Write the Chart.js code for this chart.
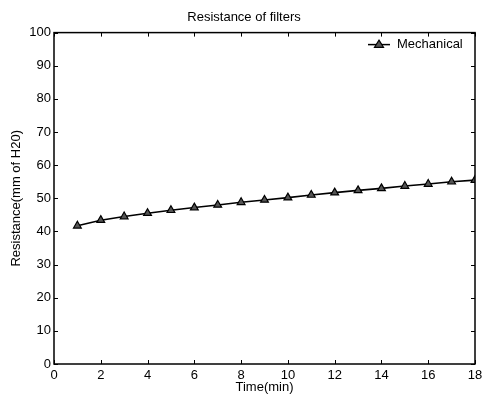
<!DOCTYPE html>
<html><head><meta charset="utf-8">
<script src="https://cdn.jsdelivr.net/npm/chart.js@4/dist/chart.umd.min.js"></script>
<style>html,body{margin:0;padding:0;background:#fff}#wrap{width:484px;height:396px}</style>
</head><body><div id="wrap"><canvas id="c" width="484" height="396"></canvas></div>
<script>
const timeMin = [1,2,3,4,5,6,7,8,9,10,11,12,13,14,15,16,17,18];
const mechanical = [41.7,43.4,44.5,45.5,46.4,47.2,48.0,48.8,49.5,50.2,51.0,51.7,52.4,53.0,53.7,54.3,55.0,55.5];
const xTicks = [0,2,4,6,8,10,12,14,16,18];
const yTicks = [0,10,20,30,40,50,60,70,80,90,100];
const FONT = 'Liberation Sans, Arial, Helvetica, sans-serif';

const boxPlugin = {
  id: 'box',
  afterDatasetsDraw(chart) {
    const {ctx, chartArea: a, scales} = chart;
    ctx.save();
    ctx.strokeStyle = '#000';
    ctx.lineWidth = 1;
    ctx.beginPath();
    xTicks.forEach(v => {
      const x = Math.round(scales.x.getPixelForValue(v)) + 0.5;
      ctx.moveTo(x, a.bottom); ctx.lineTo(x, a.bottom - 4);
      ctx.moveTo(x, a.top); ctx.lineTo(x, a.top + 4);
    });
    yTicks.forEach(v => {
      const y = Math.round(scales.y.getPixelForValue(v)) + 0.5;
      ctx.moveTo(a.left, y); ctx.lineTo(a.left + 4, y);
      ctx.moveTo(a.right, y); ctx.lineTo(a.right - 4, y);
    });
    ctx.stroke();
    ctx.lineWidth = 1.5;
    ctx.strokeRect(a.left, a.top, a.right - a.left, a.bottom - a.top);
    // legend
    const ly = a.top + 12;
    const lx = a.right - 107;
    ctx.lineWidth = 1.5;
    ctx.beginPath(); ctx.moveTo(lx, ly); ctx.lineTo(lx + 22, ly); ctx.stroke();
    ctx.beginPath();
    const cx = lx + 11, r = 4.5;
    ctx.moveTo(cx, ly - r); ctx.lineTo(cx + r, ly + r * 0.6); ctx.lineTo(cx - r, ly + r * 0.6); ctx.closePath();
    ctx.fillStyle = '#555'; ctx.fill(); ctx.lineWidth = 1.2; ctx.stroke();
    ctx.fillStyle = '#000';
    ctx.font = '13px ' + FONT;
    ctx.textBaseline = 'middle';
    ctx.textAlign = 'left';
    ctx.fillText(chart.data.datasets[0].label, lx + 29, ly);
    ctx.restore();
  }
};

new Chart(document.getElementById('c'), {
  type: 'line',
  data: {
    labels: timeMin,
    datasets: [{
      label: 'Mechanical',
      data: timeMin.map((t, i) => ({x: t, y: mechanical[i]})),
      borderColor: '#000',
      borderWidth: 1.6,
      pointStyle: 'triangle',
      pointRadius: 4.5,
      pointBackgroundColor: '#555',
      pointBorderColor: '#000',
      pointBorderWidth: 1.2,
      tension: 0,
      fill: false
    }]
  },
  options: {
    responsive: false,
    animation: false,
    devicePixelRatio: 1,
    layout: {padding: {left: 4, right: 0, top: 0, bottom: 1}},
    plugins: {
      legend: {display: false},
      tooltip: {enabled: false},
      title: {
        display: true,
        text: 'Resistance of filters',
        color: '#000',
        font: {family: FONT, size: 13, weight: 'normal'},
        padding: {top: 10, bottom: 7}
      }
    },
    scales: {
      x: {
        type: 'linear', min: 0, max: 18,
        afterBuildTicks: s => { s.ticks = xTicks.map(v => ({value: v})); },
        grid: {display: false, drawTicks: false, tickLength: 0},
        border: {display: false},
        ticks: {color: '#000', font: {family: FONT, size: 13}, padding: 4, maxRotation: 0},
        title: {display: true, text: 'Time(min)', color: '#000', font: {family: FONT, size: 13}, padding: {top: 0, bottom: 0}},
        afterFit: s => { s.height = 31; s.paddingRight = 9; }
      },
      y: {
        type: 'linear', min: 0, max: 100,
        afterBuildTicks: s => { s.ticks = yTicks.map(v => ({value: v})); },
        grid: {display: false, drawTicks: false, tickLength: 0},
        border: {display: false},
        ticks: {color: '#000', font: {family: FONT, size: 13}, padding: 3},
        title: {display: true, text: 'Resistance(mm of H20)', color: '#000', font: {family: FONT, size: 13}, padding: {top: 5, bottom: 0}},
        afterFit: s => { s.width = 50; }
      }
    }
  },
  plugins: [boxPlugin]
});
</script></body></html>
